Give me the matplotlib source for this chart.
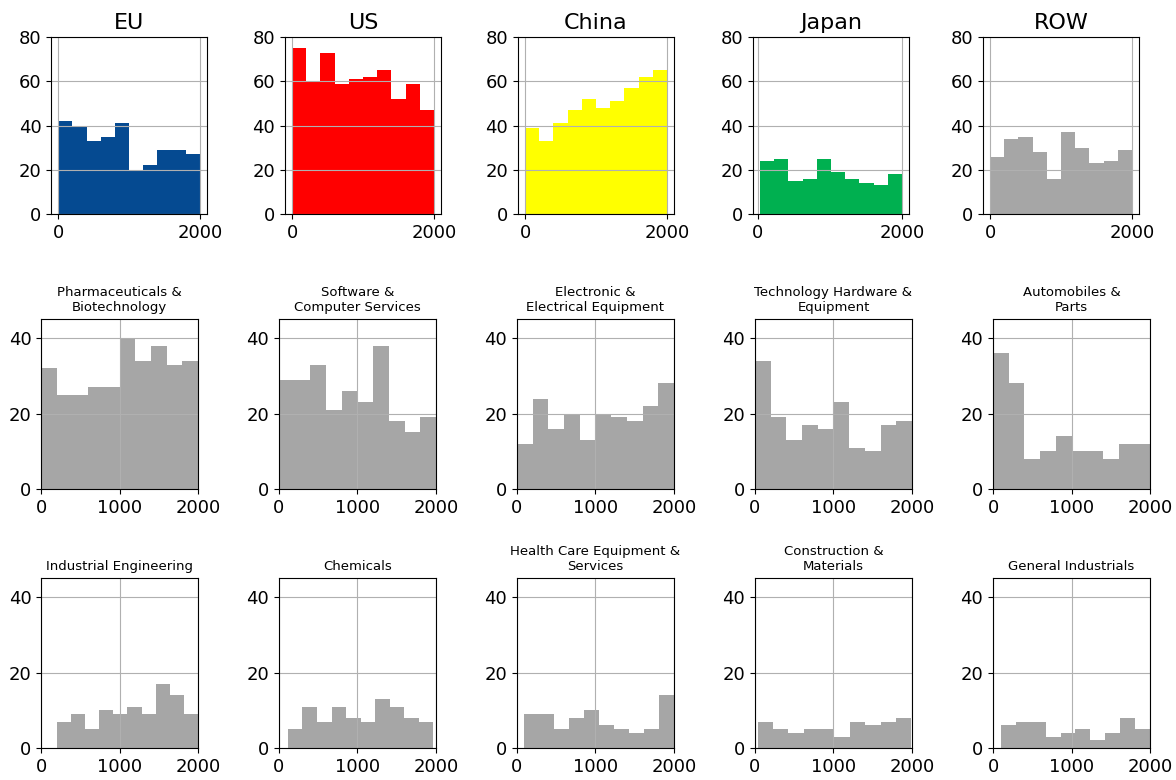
import numpy as np
import matplotlib.pyplot as plt

# top row: regions
regions = ["EU", "US", "China", "Japan", "ROW"]
region_colors = ["#054a91", "#ff0000", "#ffff00", "#00b050", "#a6a6a6"]
eu = [42, 40, 33, 35, 41, 20, 22, 29, 29, 27]
us = [75, 60, 73, 59, 61, 62, 65, 52, 59, 47]
china = [39, 33, 41, 47, 52, 48, 51, 57, 62, 65]
japan = [24, 25, 15, 16, 25, 19, 16, 14, 13, 18]
row = [26, 34, 35, 28, 16, 37, 30, 23, 24, 29]
region_counts = [eu, us, china, japan, row]
region_ranges = [(0, 2000), (0, 2000), (0, 2000), (30, 2000), (0, 2000)]

# lower rows: sectors
sectors = ["Pharmaceuticals &\nBiotechnology", "Software &\nComputer Services",
           "Electronic &\nElectrical Equipment", "Technology Hardware &\nEquipment",
           "Automobiles &\nParts", "Industrial Engineering", "Chemicals",
           "Health Care Equipment &\nServices", "Construction &\nMaterials",
           "General Industrials"]
pharma = [32, 25, 25, 27, 27, 40, 34, 38, 33, 34]
software = [29, 29, 33, 21, 26, 23, 38, 18, 15, 19]
electronic = [12, 24, 16, 20, 13, 20, 19, 18, 22, 28]
tech_hw = [34, 19, 13, 17, 16, 23, 11, 10, 17, 18]
autos = [36, 28, 8, 10, 14, 10, 10, 8, 12, 12]
ind_eng = [7, 9, 5, 10, 9, 11, 9, 17, 14, 9]
chemicals = [5, 11, 7, 11, 8, 7, 13, 11, 8, 7]
health = [9, 9, 5, 8, 10, 6, 5, 4, 5, 14]
construction = [7, 5, 4, 5, 5, 3, 7, 6, 7, 8]
gen_ind = [6, 7, 7, 3, 4, 5, 2, 4, 8, 5]
sector_counts = [pharma, software, electronic, tech_hw, autos,
                 ind_eng, chemicals, health, construction, gen_ind]
sector_ranges = [(0, 2000), (0, 2000), (0, 2000), (0, 2000), (0, 2000),
                 (200, 2000), (115, 1965), (95, 2000), (35, 1990), (100, 2000)]

fig = plt.figure(figsize=(11.76, 7.8), dpi=100)

top_lefts = [0.0434, 0.2423, 0.4405, 0.6403, 0.8359]
low_lefts = [0.0349, 0.2372, 0.4396, 0.6420, 0.8444]
row_bottoms = [0.3731, 0.0410]


def draw_hist(ax, counts, rng, color):
    edges = np.linspace(rng[0], rng[1], len(counts) + 1)
    centers = (edges[:-1] + edges[1:]) / 2
    ax.hist(centers, bins=edges, weights=counts, color=color)


for i in range(5):
    ax = fig.add_axes([top_lefts[i], 0.7256, 0.1327, 0.2269])
    draw_hist(ax, region_counts[i], region_ranges[i], region_colors[i])
    ax.set_ylim(0, 80)
    ax.set_yticks([0, 20, 40, 60, 80])
    ax.set_xticks([0, 2000])
    ax.grid(True)
    ax.tick_params(labelsize=13)
    ax.set_title(regions[i], fontsize=16)

for k in range(10):
    r, c = divmod(k, 5)
    ax = fig.add_axes([low_lefts[c], row_bottoms[r], 0.1335, 0.2175])
    draw_hist(ax, sector_counts[k], sector_ranges[k], "#a6a6a6")
    ax.set_xlim(0, 2000)
    ax.set_ylim(0, 45)
    ax.set_yticks([0, 20, 40])
    ax.set_xticks([0, 1000, 2000])
    ax.grid(True)
    ax.tick_params(labelsize=13)
    ax.set_title(sectors[k], fontsize=9.5)

plt.savefig("out.png")
